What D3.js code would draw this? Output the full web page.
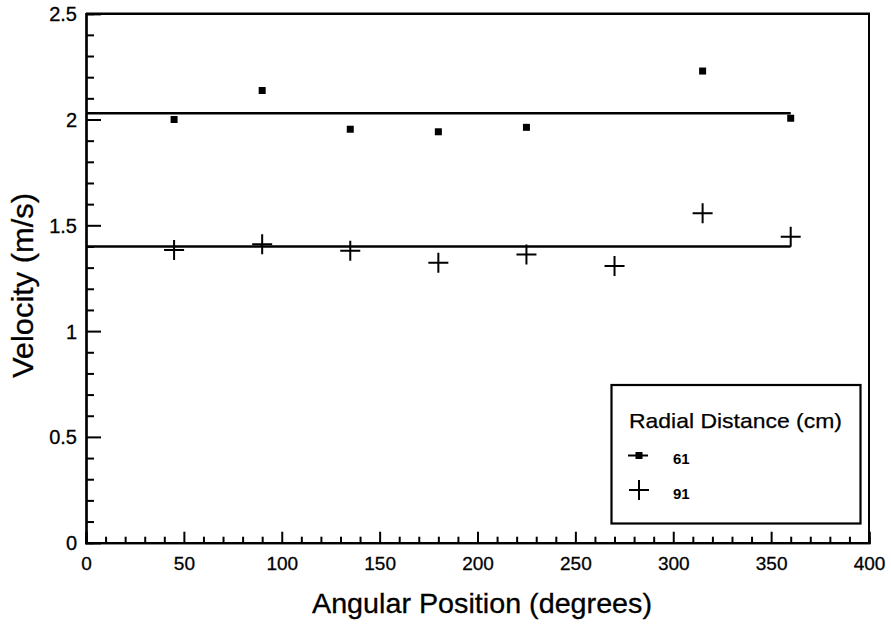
<!DOCTYPE html>
<html>
<head>
<meta charset="utf-8">
<script src="https://cdn.jsdelivr.net/npm/d3@7"></script>
<style>
  html, body { margin: 0; padding: 0; background: #fff; }
  svg { display: block; }
  text { font-family: "Liberation Sans", Arial, Helvetica, sans-serif; fill: #000; }
</style>
</head>
<body>
<svg id="chart" width="891" height="630"></svg>
<script>
// ---- data ----
const angles61 = [45, 90, 135, 180, 225, 315, 360];
const velocity61 = [2.0, 2.137, 1.954, 1.942, 1.963, 2.229, 2.006];
const angles91 = [45, 90, 135, 180, 225, 270, 315, 360];
const velocity91 = [1.383, 1.411, 1.380, 1.323, 1.362, 1.308, 1.557, 1.446];
const meanLevels = [2.03, 1.40];          // horizontal mean lines (61 cm, 91 cm)
const meanExtent = [0, 360];
const xTicks = [0, 50, 100, 150, 200, 250, 300, 350, 400];
const yTicks = [0, 0.5, 1, 1.5, 2, 2.5];
const seriesNames = ["61", "91"];
const legendTitle = "Radial Distance (cm)";
const xTitle = "Angular Position (degrees)";
const yTitle = "Velocity (m/s)";

// ---- layout ----
const svg = d3.select("#chart");
const pL = 86, pR = 869, pT = 13.7, pB = 542.7;
const x = d3.scaleLinear().domain([0, 400]).range([pL, pR]);
const y = d3.scaleLinear().domain([0, 2.5]).range([pB, pT]);

// frame: top and right borders
svg.append("line").attr("x1", pL).attr("x2", pR + 1).attr("y1", pT).attr("y2", pT)
  .attr("stroke", "#000").attr("stroke-width", 2.6);
svg.append("line").attr("x1", pR).attr("x2", pR).attr("y1", pT).attr("y2", pB)
  .attr("stroke", "#000").attr("stroke-width", 2);

// x axis: minor + major ticks inward
const xMinor = d3.range(0, 401, 10).filter(v => v % 50 !== 0);
const gxMinor = svg.append("g").attr("transform", `translate(0,${pB})`)
  .call(d3.axisBottom(x).tickValues(xMinor).tickSize(-6).tickFormat(""));
const gx = svg.append("g").attr("transform", `translate(0,${pB})`)
  .call(d3.axisBottom(x).tickValues(xTicks).tickSize(-11).tickPadding(17).tickFormat(d3.format("d")));
[gxMinor, gx].forEach(g => {
  g.select(".domain").attr("stroke", "#000").attr("stroke-width", 2.2);
  g.selectAll(".tick line").attr("stroke", "#000").attr("stroke-width", 2);
});
gx.selectAll(".tick text").attr("font-size", 19).attr("y", 14).attr("dy", "0.71em")
  .style("font-family", '"Liberation Sans", Arial, sans-serif').attr("fill", "#000")
  .attr("stroke", "#000").attr("stroke-width", 0.3);

// y axis: minor + major ticks inward
const yMinor = d3.range(0, 26).map(v => v / 10).filter(v => Math.round(v * 10) % 5 !== 0);
const gyMinor = svg.append("g").attr("transform", `translate(${pL},0)`)
  .call(d3.axisLeft(y).tickValues(yMinor).tickSize(-8).tickFormat(""));
const gy = svg.append("g").attr("transform", `translate(${pL},0)`)
  .call(d3.axisLeft(y).tickValues(yTicks).tickSize(-15).tickPadding(9).tickFormat(d => String(d)));
[gyMinor, gy].forEach(g => {
  g.select(".domain").attr("stroke", "#000").attr("stroke-width", 2.2);
  g.selectAll(".tick line").attr("stroke", "#000").attr("stroke-width", 2);
});
gy.selectAll(".tick text").attr("font-size", 20).attr("x", -9).attr("dy", "0.35em")
  .style("font-family", '"Liberation Sans", Arial, sans-serif').attr("fill", "#000")
  .attr("stroke", "#000").attr("stroke-width", 0.3);

// mean lines
svg.append("g").selectAll("line").data(meanLevels).join("line")
  .attr("x1", x(meanExtent[0])).attr("x2", x(meanExtent[1]))
  .attr("y1", d => y(d)).attr("y2", d => y(d))
  .attr("stroke", "#000").attr("stroke-width", 2.5);

// series 61: filled squares
const sq = 7;
svg.append("g").selectAll("rect").data(angles61.map((a, i) => [a, velocity61[i]])).join("rect")
  .attr("x", d => x(d[0]) - sq / 2).attr("y", d => y(d[1]) - sq / 2)
  .attr("width", sq).attr("height", sq).attr("fill", "#000");

// series 91: plus signs
const ph = 10;
const plusPath = (cx, cy) => `M${cx - ph},${cy}H${cx + ph}M${cx},${cy - ph}V${cy + ph}`;
svg.append("g").selectAll("path").data(angles91.map((a, i) => [a, velocity91[i]])).join("path")
  .attr("d", d => plusPath(x(d[0]), y(d[1])))
  .attr("stroke", "#000").attr("stroke-width", 2).attr("fill", "none");

// axis titles
svg.append("text").attr("x", 482).attr("y", 613).attr("text-anchor", "middle")
  .attr("font-size", 28).attr("textLength", 340).attr("lengthAdjust", "spacingAndGlyphs")
  .attr("stroke", "#000").attr("stroke-width", 0.3)
  .text(xTitle);
svg.append("text").attr("transform", "translate(33,285.5) rotate(-90)").attr("text-anchor", "middle")
  .attr("font-size", 29).attr("textLength", 185).attr("lengthAdjust", "spacingAndGlyphs")
  .attr("stroke", "#000").attr("stroke-width", 0.3)
  .text(yTitle);

// legend
const lg = svg.append("g");
lg.append("rect").attr("x", 611.5).attr("y", 385).attr("width", 249).attr("height", 138.5)
  .attr("fill", "#fff").attr("stroke", "#000").attr("stroke-width", 2.2);
lg.append("text").attr("x", 629).attr("y", 428).attr("font-size", 21)
  .attr("textLength", 213).attr("lengthAdjust", "spacingAndGlyphs")
  .attr("stroke", "#000").attr("stroke-width", 0.25).text(legendTitle);
const legendRows = [455.5, 490];
// 61 row
lg.append("line").attr("x1", 628).attr("x2", 648).attr("y1", legendRows[0]).attr("y2", legendRows[0])
  .attr("stroke", "#000").attr("stroke-width", 2);
lg.append("rect").attr("x", 639 - 3.5).attr("y", legendRows[0] - 3.5).attr("width", 7).attr("height", 7).attr("fill", "#000");
// 91 row
lg.append("path").attr("d", plusPath(639, legendRows[1])).attr("stroke", "#000").attr("stroke-width", 2);
lg.selectAll("text.lab").data(seriesNames).join("text").attr("class", "lab")
  .attr("x", 673).attr("y", (d, i) => legendRows[i] + 8.5)
  .attr("font-size", 15).attr("font-weight", "bold").text(d => d);
</script>
</body>
</html>
